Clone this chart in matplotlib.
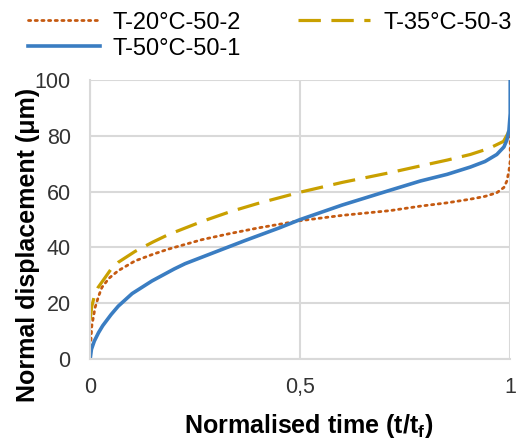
import matplotlib.pyplot as plt

plt.rcParams['font.family'] = ['Liberation Sans', 'DejaVu Sans']

# Normalised time (t/tf) and normal displacement (um)
t_20 = [0, 0.004, 0.012, 0.02, 0.028, 0.045, 0.067, 0.107, 0.15, 0.186, 0.266, 0.333, 0.4, 0.5, 0.6, 0.714,
        0.786, 0.85, 0.905, 0.94, 0.968, 0.985, 0.992, 0.997, 1.0, 1.0]
d_20 = [2, 12, 18.6, 22.5, 25.7, 29, 31.7, 35.2, 37.6, 39.4, 42.8, 45, 47, 49.6, 51.5, 53.2,
        54.8, 56, 57.3, 58.3, 59.6, 61.5, 63.8, 67.5, 71, 83]

t_35 = [0, 0.004, 0.01, 0.019, 0.036, 0.05, 0.067, 0.107, 0.15, 0.186, 0.266, 0.333, 0.4, 0.5, 0.6, 0.714,
        0.786, 0.85, 0.905, 0.95, 0.984, 0.995, 1.0]
d_35 = [14, 19, 22.5, 25.7, 29.3, 32.3, 34.7, 38.6, 42, 44.6, 49.3, 52.8, 55.8, 59.8, 63.3, 66.8,
        69.2, 71.3, 73.3, 75.5, 78, 81, 86]

t_50 = [0, 0.003, 0.01, 0.02, 0.03, 0.05, 0.067, 0.1, 0.147, 0.2, 0.226, 0.3, 0.369, 0.45, 0.5, 0.6, 0.714,
        0.786, 0.85, 0.905, 0.94, 0.968, 0.985, 0.992, 0.997, 1.0, 1.0]
d_50 = [0, 3.5, 6.5, 9.5, 12, 16, 19, 23.5, 28, 32.3, 34.2, 38.5, 42.5, 47, 50, 55.2, 60.5,
        63.8, 66.2, 68.8, 70.8, 73.3, 76, 78.5, 82, 88, 100]

fig = plt.figure(figsize=(5.18, 4.44), dpi=100)
ax = fig.add_axes([0.174, 0.191, 0.811, 0.629])

l20, = ax.plot(t_20, d_20, color="#C55A11", linestyle=(0, (0.8, 1.6)), linewidth=2.0,
               dash_capstyle="round", label="T-20°C-50-2")
l35, = ax.plot(t_35, d_35, color="#C9A000", linestyle=(0, (7, 3.3)), linewidth=2.3, label="T-35°C-50-3")
l50, = ax.plot(t_50, d_50, color="#3A7DC2", linewidth=2.6, label="T-50°C-50-1")

ax.set_xlim(0, 1)
ax.set_ylim(0, 100)
ax.set_xticks([0, 0.5, 1])
ax.set_xticklabels(["0", "0,5", "1"])
ax.set_yticks(range(0, 101, 20))
ax.grid(color="#D9D9D9", linewidth=1.5)
ax.set_axisbelow(True)
for s in ["top", "right"]:
    ax.spines[s].set_visible(False)
for s in ["left", "bottom"]:
    ax.spines[s].set_color("#D9D9D9")
    ax.spines[s].set_linewidth(1.5)
ax.tick_params(length=0, labelsize=15.5, labelcolor="#333333")
ax.tick_params(axis="y", pad=14)
ax.tick_params(axis="x", pad=13)

ax.set_xlabel("Normalised time (t/t$_\\mathregular{f}$)", fontsize=18, fontweight="bold", va="top")
ax.xaxis.set_label_coords(0.52, -0.19)
ax.set_ylabel("Normal displacement (μm)", fontsize=18, fontweight="bold")
ax.yaxis.set_label_coords(-0.119, 0.41)

fig.legend([l20, l50, l35], [l20.get_label(), l50.get_label(), l35.get_label()],
           loc="upper left", bbox_to_anchor=(0.054, 0.974), ncol=2, frameon=False,
           fontsize=17, handlelength=3.05, handletextpad=0.55, columnspacing=2.4,
           labelspacing=0.17, borderpad=0, borderaxespad=0)

fig.savefig("out.png", dpi=100)
